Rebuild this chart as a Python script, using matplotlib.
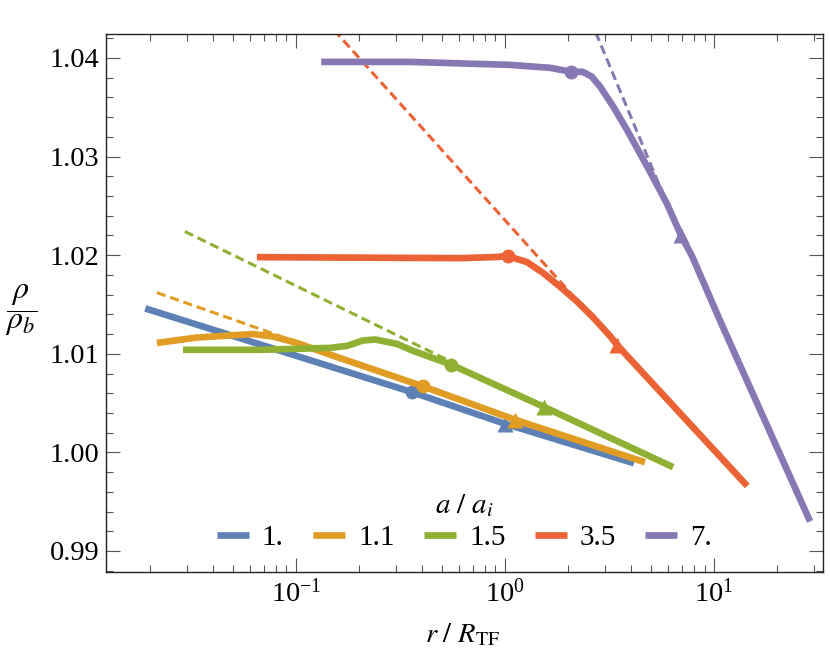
import matplotlib
matplotlib.use("Agg")
import matplotlib.pyplot as plt
from matplotlib.lines import Line2D
from matplotlib.ticker import (FormatStrFormatter, LogLocator, MultipleLocator,
                               NullFormatter)

plt.rcParams["font.family"] = ["Liberation Serif", "DejaVu Serif"]
plt.rcParams["mathtext.fontset"] = "stix"

# a / a_i values and colours
LABELS = ["1.", "1.1", "1.5", "3.5", "7."]
COLORS = ["#5E81B5", "#E19C24", "#8FB032", "#EB6235", "#8778B3"]

# solid density profiles, r / R_TF and rho / rho_b
blue_r = [0.019, 0.36, 1.0, 4.14]
blue_rho = [1.0146, 1.0061, 1.0029, 0.9989]

orange_r = [0.0216, 0.0336, 0.0622, 0.0776, 0.101, 0.146, 0.405, 1.12, 4.67]
orange_rho = [1.0111, 1.01165, 1.0120, 1.01175, 1.0111, 1.0099, 1.0067, 1.0033, 0.9990]

green_r = [0.0288, 0.0673, 0.1455, 0.1754, 0.209, 0.239, 0.304, 0.363, 0.552, 1.54, 6.37]
green_rho = [1.0104, 1.0104, 1.0106, 1.0108, 1.01135, 1.01145, 1.0110, 1.0103, 1.0089, 1.0046, 0.9985]

red_r = [0.065, 0.609, 0.877, 1.033, 1.274, 1.52, 1.834, 2.211, 2.636, 3.179, 3.434, 14.4]
red_rho = [1.0198, 1.0197, 1.0198, 1.0199, 1.0193, 1.0182, 1.0168, 1.0153, 1.0137, 1.0118, 1.0109, 0.9966]

purple_r = [0.132, 0.351, 1.057, 1.641, 2.07, 2.35, 2.6, 2.848, 3.287, 3.834, 4.426,
            5.105, 5.957, 6.95, 7.848, 10.92, 28.8]
purple_rho = [1.0396, 1.0396, 1.0393, 1.0390, 1.0386, 1.0386, 1.0381, 1.0371, 1.0351, 1.0327, 1.0303,
              1.0279, 1.0252, 1.0220, 1.0199, 1.0129, 0.9930]

# dashed asymptotes (blue one sits under its solid line)
orange_dash_r = [0.0216, 0.405]
orange_dash_rho = [1.0162, 1.0067]
green_dash_r = [0.0294, 0.552]
green_dash_rho = [1.0224, 1.0092]
red_dash_r = [0.137, 2.64]
red_dash_rho = [1.0439, 1.0136]
purple_dash_r = [2.56, 6.95]
purple_dash_rho = [1.0439, 1.0218]

# marker points, one per curve
circle_r = [0.36, 0.405, 0.552, 1.033, 2.07]
circle_rho = [1.0061, 1.0067, 1.0089, 1.0199, 1.0386]
tri_r = [1.0, 1.12, 1.54, 3.43, 6.95]
tri_rho = [1.0029, 1.0033, 1.0046, 1.0109, 1.0220]

solids = [(blue_r, blue_rho), (orange_r, orange_rho), (green_r, green_rho),
          (red_r, red_rho), (purple_r, purple_rho)]
dashes = [None, (orange_dash_r, orange_dash_rho), (green_dash_r, green_dash_rho),
          (red_dash_r, red_dash_rho), (purple_dash_r, purple_dash_rho)]

fig = plt.figure(figsize=(8.3, 6.54), dpi=100)
ax = fig.add_axes([106 / 830, 82 / 654, 717 / 830, 538 / 654])

for i, color in enumerate(COLORS):
    if dashes[i] is not None:
        ax.plot(*dashes[i], color=color, lw=2.2, dashes=(3.0, 1.6))
    ax.plot(*solids[i], color=color, lw=4.8, solid_capstyle="butt",
            solid_joinstyle="round")
    ax.plot(circle_r[i], circle_rho[i], "o", color=color, ms=10, mec="none")
    ax.plot(tri_r[i], tri_rho[i], "^", color=color, ms=11, mec="none")

ax.set_xscale("log")
ax.set_xlim(0.01233, 33.2)
ax.set_ylim(0.98787, 1.04243)

ax.yaxis.set_major_locator(MultipleLocator(0.01))
ax.yaxis.set_minor_locator(MultipleLocator(0.002))
ax.yaxis.set_major_formatter(FormatStrFormatter("%.2f"))
ax.xaxis.set_major_locator(LogLocator(base=10))
ax.xaxis.set_minor_locator(LogLocator(base=10, subs=range(2, 10)))
ax.xaxis.set_minor_formatter(NullFormatter())

ax.tick_params(which="both", direction="in", top=True, right=True,
               labelsize=20.5, color="#555555", width=0.8, pad=5)
ax.tick_params(which="major", length=10)
ax.tick_params(which="minor", length=5)
for spine in ax.spines.values():
    spine.set_linewidth(1.0)
    spine.set_color("#222222")

ax.set_xlabel(r"$r\ /\ R_{\mathrm{TF}}$", fontsize=20.5, va="top")
ax.xaxis.set_label_coords(0.498, -0.093)
ax.set_ylabel(r"$\dfrac{\rho}{\rho_b}$", fontsize=23, rotation=0, va="center", ha="center")
ax.yaxis.set_label_coords(-0.118, 0.487)

handles = [Line2D([], [], color=c, lw=4.8, solid_capstyle="butt") for c in COLORS]
leg = ax.legend(handles, LABELS, ncol=5, loc="lower center", bbox_to_anchor=(0.5, 0.012),
                frameon=False, fontsize=21, handlelength=1.1, handletextpad=0.45,
                columnspacing=1.0, borderpad=0, labelspacing=0.2,
                title=r"$a\ /\ a_i$", title_fontsize=21)

fig.savefig("out.png", dpi=100)
